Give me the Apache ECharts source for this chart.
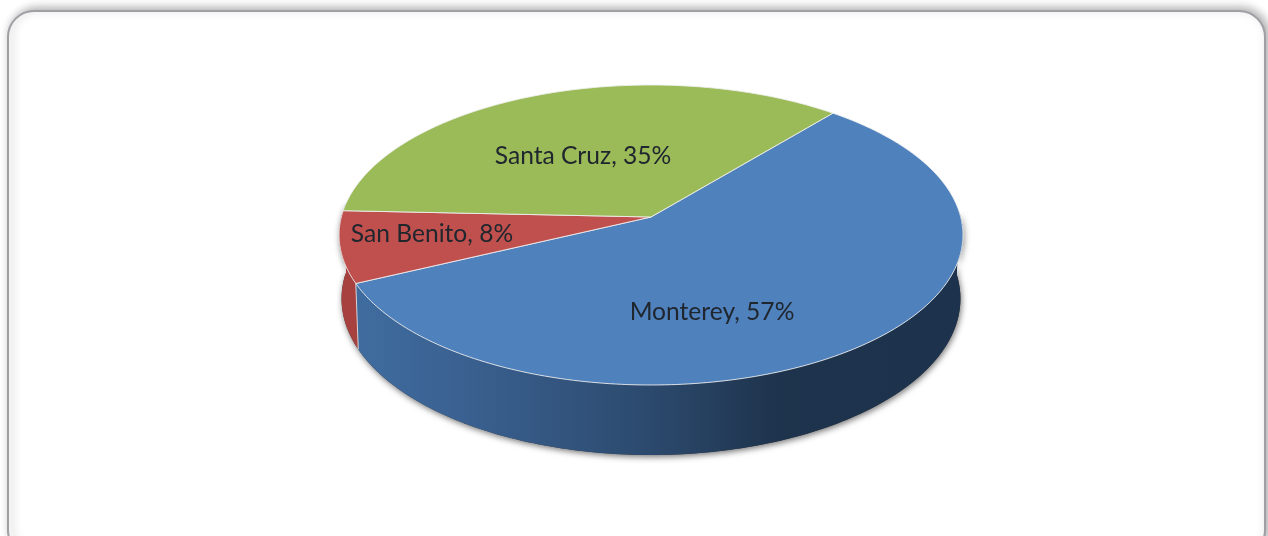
<!DOCTYPE html>
<html>
<head>
<meta charset="utf-8">
<style>html,body{margin:0;padding:0;background:#fff;overflow:hidden}#c{width:1268px;height:536px}</style>
<script src="https://cdn.jsdelivr.net/npm/echarts@6/dist/echarts.min.js"></script>
</head>
<body>
<div id="c"></div>
<script>
// Data
const categories = ['Monterey', 'San Benito', 'Santa Cruz'];
const shareValues = [56.9, 7.7, 35.4];

// Styling
const topColors = ['#4f81bd', '#c0504d', '#9bbb59'];
const labelSpots = [[712, 312], [432, 234], [583, 156]];
const startAngle = 39.9;

// Perspective projection of a unit disc (u right, v towards viewer, h depth)
const view = {cx: 651, cy: 217, a: 309.7, b: 147.84, q: 0.12, p: 0.008, c: 63.5};
function project(theta, r, h) {
  const t = theta * Math.PI / 180;
  const u = r * Math.sin(t), v = -r * Math.cos(t);
  const d = 1 - view.q * v + view.p * h;
  return [view.cx + view.a * u / d, view.cy + (view.b * v + view.c * h) / d];
}
function rim(from, to, h) {
  const n = Math.max(2, Math.ceil(Math.abs(to - from)));
  const pts = [];
  for (let i = 0; i <= n; i++) pts.push(project(from + (to - from) * i / n, 1, h));
  return pts;
}
function bandOf(i) {
  const total = shareValues.reduce((s, x) => s + x, 0);
  let a = startAngle;
  for (let k = 0; k < i; k++) a += shareValues[k] / total * 360;
  return [a, a + shareValues[i] / total * 360];
}
const wallFrom = 88, wallTo = 276;
function wallPoly(a0, a1) {
  return rim(a0, a1, 0).concat(rim(a1, a0, 1));
}
const blueWall = {
  type: 'linear', x: 356, y: 0, x2: 963, y2: 0, global: true,
  colorStops: [
    {offset: 0, color: '#3f6c9f'},
    {offset: 0.2, color: '#395f8e'},
    {offset: 0.48, color: '#2c4a6e'},
    {offset: 0.7, color: '#1e334c'},
    {offset: 1, color: '#1d324c'}
  ]
};
const wallFills = [blueWall, '#a6413f', null];

function renderWall(params) {
  const i = params.dataIndex;
  const children = [];
  if (i === 0) {
    children.push({type: 'polygon', z2: 0, shape: {points: wallPoly(wallFrom, wallTo)},
      style: {fill: '#3a3a3a', shadowBlur: 6, shadowColor: 'rgba(0,0,0,0.55)', shadowOffsetX: 1, shadowOffsetY: 2}});
  }
  const band = bandOf(i);
  const a0 = Math.max(band[0], wallFrom), a1 = Math.min(band[1], wallTo);
  if (wallFills[i] && a1 > a0) {
    children.push({type: 'polygon', z2: 1, shape: {points: wallPoly(a0, a1)}, style: {fill: wallFills[i]}});
    const edgeTop = project(a1, 1, 0), edgeBottom = project(a1, 1, 1);
    children.push({type: 'line', z2: 2, shape: {x1: edgeTop[0], y1: edgeTop[1], x2: edgeBottom[0], y2: edgeBottom[1]},
      style: {stroke: 'rgba(235,235,235,0.85)', lineWidth: 1}});
  }
  return {type: 'group', children};
}
function renderTop(params) {
  const i = params.dataIndex;
  const band = bandOf(i);
  return {type: 'group', children: [
    {type: 'polygon', z2: 3, shape: {points: [project(0, 0, 0)].concat(rim(band[0], band[1], 0))},
      style: {fill: topColors[i], stroke: 'rgba(240,240,240,0.85)', lineWidth: 1, lineJoin: 'round'}},
    {type: 'text', z2: 5, style: {
      text: categories[i] + ', ' + Math.round(shareValues[i]) + '%',
      x: labelSpots[i][0], y: labelSpots[i][1], align: 'center', verticalAlign: 'middle',
      font: '24.6px Lato', fill: '#20262e'}}
  ]};
}

const chart = echarts.init(document.getElementById('c'), null, {renderer: 'canvas'});
const seriesData = categories.map((name, i) => ({name, value: shareValues[i]}));
chart.setOption({
  animation: false,
  backgroundColor: '#ffffff',
  graphic: [{
    type: 'rect', z: 0, silent: true,
    shape: {x: 8, y: 11, width: 1257, height: 545, r: 26},
    style: {fill: '#fff', stroke: '#9f9fa4', lineWidth: 2,
      shadowBlur: 10, shadowColor: 'rgba(0,0,0,0.32)', shadowOffsetX: 3, shadowOffsetY: -2}
  }],
  series: [
    {type: 'custom', coordinateSystem: 'none', z: 2, silent: true, clip: false, renderItem: renderWall, data: seriesData},
    {type: 'custom', coordinateSystem: 'none', z: 3, silent: true, clip: false, renderItem: renderTop, data: seriesData}
  ]
});
</script>
</body>
</html>
